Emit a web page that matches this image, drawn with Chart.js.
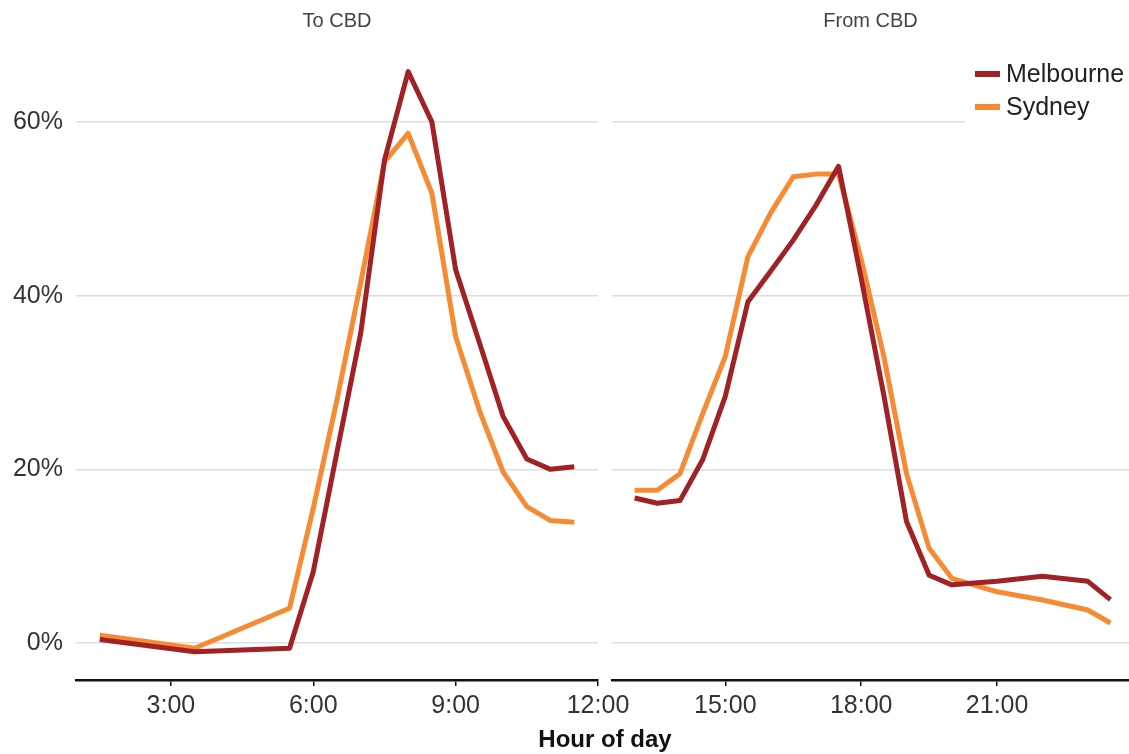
<!DOCTYPE html>
<html><head><meta charset="utf-8">
<script src="https://cdn.jsdelivr.net/npm/chart.js@4.4.1/dist/chart.umd.min.js"></script>
<style>
html,body{margin:0;padding:0;background:#fff;overflow:hidden;width:1129px;height:754px;}
#wrap{position:relative;width:1129px;height:754px;}
canvas{position:absolute;top:0;}
#cL{left:0;}
#cR{left:605px;}
</style></head><body>
<div id="wrap"><canvas id="cL" width="700" height="754"></canvas><canvas id="cR" width="524" height="754"></canvas></div>
<script>
const panelTitles = ['To CBD', 'From CBD'];
const seriesNames = ['Melbourne', 'Sydney'];
const seriesColors = ['#A02226', '#F68B33'];
const xTitle = 'Hour of day';

const toHours     = [1.5, 3.5, 5.5, 6, 6.5, 7, 7.5, 8, 8.5, 9, 9.5, 10, 10.5, 11, 11.5];
const toMelbourne = [0.4, -1.0, -0.6, 8.2, 22.0, 35.7, 55.6, 65.8, 60.0, 43.0, 34.6, 26.1, 21.2, 20.0, 20.3];
const toSydney    = [0.9, -0.6, 4.0, 15.5, 28.0, 41.5, 55.4, 58.7, 51.8, 35.3, 26.8, 19.7, 15.7, 14.1, 13.9];

const fromHours     = [13, 13.5, 14, 14.5, 15, 15.5, 16, 16.5, 17, 17.5, 18, 18.5, 19, 19.5, 20, 21, 22, 23, 23.5];
const fromMelbourne = [16.7, 16.1, 16.4, 21.1, 28.4, 39.3, 42.8, 46.4, 50.4, 54.9, 42.0, 28.5, 14.0, 7.8, 6.7, 7.1, 7.7, 7.1, 5.0];
const fromSydney    = [17.6, 17.6, 19.5, 26.4, 33.0, 44.5, 49.5, 53.7, 54.0, 54.0, 44.2, 33.0, 19.5, 10.9, 7.45, 5.9, 4.95, 3.8, 2.3];

const toTicks = [3, 6, 9, 12];
const fromTicks = [15, 18, 21];
const yTicks = [0, 20, 40, 60];

const FONT = '"Liberation Sans", Arial, Helvetica, sans-serif';

function pts(xs, ys) { return xs.map((x, i) => ({ x: x, y: ys[i] })); }

function makeDatasets(xs, mel, syd) {
  return [mel, syd].map((vals, i) => ({
    label: seriesNames[i],
    data: pts(xs, vals),
    borderColor: seriesColors[i],
    backgroundColor: seriesColors[i],
    borderWidth: 5,
    pointRadius: 0,
    tension: 0,
    borderJoinStyle: 'round',
    borderCapStyle: 'butt',
    fill: false
  }));
}

const xTitlePlugin = {
  id: 'xTitlePlugin',
  afterDraw(chart) {
    const { ctx, chartArea } = chart;
    ctx.save();
    ctx.font = 'bold 24px ' + FONT;
    ctx.fillStyle = '#111';
    ctx.textAlign = 'center';
    ctx.textBaseline = 'middle';
    ctx.fillText(xTitle, chartArea.right + 7, chartArea.bottom + 60);
    ctx.restore();
  }
};

const cornerLegend = {
  id: 'cornerLegend',
  beforeDatasetsDraw(chart) {
    const { ctx, chartArea } = chart;
    const x0 = chartArea.right - 164;
    ctx.save();
    ctx.fillStyle = '#fff';
    ctx.fillRect(x0, chartArea.top + 12, chartArea.right - x0, 74);
    ctx.restore();
  },
  afterDraw(chart) {
    const { ctx, chartArea } = chart;
    const x0 = chartArea.right - 164;
    ctx.save();
    ctx.font = '25px ' + FONT;
    ctx.textBaseline = 'middle';
    ctx.textAlign = 'left';
    chart.data.datasets.forEach((ds, i) => {
      const y = chartArea.top + 33 + i * 33;
      ctx.strokeStyle = ds.borderColor;
      ctx.lineWidth = 6;
      ctx.lineCap = 'butt';
      ctx.beginPath();
      ctx.moveTo(x0 + 10, y);
      ctx.lineTo(x0 + 35, y);
      ctx.stroke();
      ctx.fillStyle = '#222';
      ctx.fillText(ds.label, x0 + 41, y + 1);
    });
    ctx.restore();
  }
};

function makeOptions(isLeft, xmin, xmax, ticks, title) {
  return {
    responsive: false,
    animation: false,
    layout: { padding: isLeft ? { left: 0, right: 102, top: 0, bottom: 0 } : { left: 7, right: 0, top: 0, bottom: 0 } },
    plugins: {
      legend: { display: false },
      tooltip: { enabled: false },
      title: {
        display: true, text: title, fullSize: false, color: '#444',
        font: { family: FONT, size: 20, weight: 'normal' },
        padding: { top: 9, bottom: 8 }
      }
    },
    scales: {
      x: {
        type: 'linear', min: xmin, max: xmax,
        afterBuildTicks: s => { s.ticks = ticks.map(v => ({ value: v })); },
        afterFit: s => { s.height = 74; },
        ticks: { padding: 5, color: '#333', font: { family: FONT, size: 25 }, maxRotation: 0, autoSkip: false,
                 callback: v => v + ':00' },
        grid: { drawOnChartArea: false, drawTicks: true, tickLength: 6, color: '#111', lineWidth: 1.5 },
        border: { display: true, color: '#111', width: 2.5 }
      },
      y: {
        type: 'linear', min: -4.26, max: 69.33,
        afterBuildTicks: s => { s.ticks = yTicks.map(v => ({ value: v })); },
        afterFit: s => { s.width = isLeft ? 76 : 0; },
        ticks: { display: isLeft, padding: 13, color: '#333', font: { family: FONT, size: 25 },
                 callback: v => v + '%' },
        grid: { color: '#dedede', lineWidth: 1.5, drawTicks: false },
        border: { display: false }
      }
    }
  };
}

new Chart(document.getElementById('cL'), {
  type: 'line',
  data: { datasets: makeDatasets(toHours, toMelbourne, toSydney) },
  options: makeOptions(true, 1, 12, toTicks, panelTitles[0]),
  plugins: [xTitlePlugin]
});

new Chart(document.getElementById('cR'), {
  type: 'line',
  data: { datasets: makeDatasets(fromHours, fromMelbourne, fromSydney) },
  options: makeOptions(false, 12.5, 23.91, fromTicks, panelTitles[1]),
  plugins: [cornerLegend]
});
</script>
</body></html>
